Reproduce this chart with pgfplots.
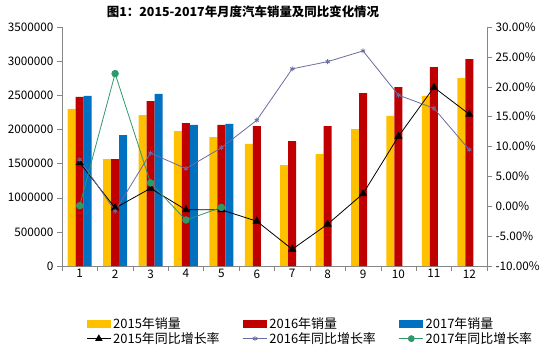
\documentclass[border=0pt]{standalone}
\usepackage{pgfplots}
\pgfplotsset{compat=1.18}
\usepackage{fontspec}
\setmainfont{Noto Sans CJK SC}
\definecolor{c15}{HTML}{FFC000}
\definecolor{c16}{HTML}{C00000}
\definecolor{c17}{HTML}{0070C0}
\definecolor{l16}{HTML}{6B6BA3}
\definecolor{l17}{HTML}{2E9A6A}
\definecolor{axgray}{HTML}{868686}
\pgfplotsset{
  barleg/.style={legend image code/.code={\fill[##1] (0bp,-4bp) rectangle (24bp,4bp);}},
  lineleg/.style={legend image code/.code={\draw[mark repeat=2,mark phase=2,##1] plot coordinates {(0bp,0bp) (12bp,0bp) (24bp,0bp)};}},
}
\begin{document}
\begin{tikzpicture}[font=\fontsize{11}{13}\selectfont]
\path[use as bounding box] (0,0) rectangle (553bp,-357bp);
\node[font=\bfseries\fontsize{12.5}{14}\selectfont] at (243bp,-12bp) {图1：2015-2017年月度汽车销量及同比变化情况};
\begin{axis}[
  at={(62bp,-266bp)}, anchor=south west,
  scale only axis, width=425bp, height=239bp,
  xmin=0.5, xmax=12.5, ymin=0, ymax=3500000,
  axis x line*=bottom, axis y line*=left,
  axis line style={axgray},
  tick align=outside, major tick length=5bp,
  tick style={axgray, thin},
  xtick={0.5,1.5,...,12.5}, xticklabels={},
  extra x ticks={1,2,...,12},
  extra x tick style={major tick length=0pt},
  ytick={0,500000,...,3500000},
  scaled y ticks=false,
  yticklabel style={/pgf/number format/fixed, /pgf/number format/1000 sep={}},
  /pgf/number format/assume math mode=true,
  ticklabel style={font=\fontsize{11.8}{13}\selectfont},
  legend columns=3,
  legend cell align=left,
  legend style={at={(0.05,-0.2)}, anchor=north west, draw=none, fill=none,
    font=\fontsize{13}{15}\selectfont,
    /tikz/every even column/.append style={column sep=21bp},
    row sep=-2bp},
]
\addplot[ybar, bar width=0.226, bar shift=-0.226, fill=c15, draw=none, barleg] coordinates {
(1,2300000) (2,1567000) (3,2210000) (4,1977000) (5,1889000) (6,1787000)
(7,1479000) (8,1640000) (9,2006000) (10,2197000) (11,2490000) (12,2753000)};
\addlegendentry{2015年销量}
\addplot[ybar, bar width=0.226, bar shift=0, fill=c16, draw=none, barleg] coordinates {
(1,2475000) (2,1567000) (3,2416000) (4,2094000) (5,2065000) (6,2050000)
(7,1830000) (8,2050000) (9,2533000) (10,2621000) (11,2914000) (12,3030000)};
\addlegendentry{2016年销量}
\addplot[ybar, bar width=0.226, bar shift=0.226, fill=c17, draw=none, barleg] coordinates {
(1,2490000) (2,1918000) (3,2519000) (4,2065000) (5,2080000)};
\addlegendentry{2017年销量}
\addlegendimage{black, line width=0.8pt, mark=triangle*, mark size=3.5bp, lineleg}
\addlegendentry{2015年同比增长率}
\addlegendimage{l16, line width=0.8pt, mark=asterisk, mark size=2.5bp, lineleg}
\addlegendentry{2016年同比增长率}
\addlegendimage{l17, line width=0.8pt, mark=*, mark size=3bp, lineleg}
\addlegendentry{2017年同比增长率}
\end{axis}
\begin{axis}[
  at={(62bp,-266bp)}, anchor=south west,
  scale only axis, width=425bp, height=239bp,
  xmin=0.5, xmax=12.5, ymin=-10, ymax=30,
  axis x line=none, axis y line*=right,
  axis line style={axgray},
  tick align=outside, major tick length=5bp,
  tick style={axgray, thin},
  ytick={-10,-5,...,30},
  yticklabel={\pgfmathprintnumber[fixed, fixed zerofill, precision=2]{\tick}\%},
  /pgf/number format/assume math mode=true,
  ticklabel style={font=\fontsize{11.8}{13}\selectfont},
]
\addplot[black, line width=0.8pt, mark=triangle*, mark size=4bp] coordinates {
(1,7.3) (2,-0.3) (3,3.0) (4,-0.6) (5,-0.6) (6,-2.5) (7,-7.2) (8,-3.0) (9,2.1) (10,11.7) (11,19.9) (12,15.4)};
\addplot[l16, line width=0.8pt, mark=asterisk, mark size=2.5bp] coordinates {
(1,7.8) (2,-0.8) (3,8.9) (4,6.3) (5,9.8) (6,14.4) (7,23.0) (8,24.2) (9,26.0) (10,18.6) (11,16.4) (12,9.45)};
\addplot[l17, line width=0.8pt, mark=*, mark size=3.3bp] coordinates {
(1,0.1) (2,22.2) (3,3.9) (4,-2.3) (5,-0.2)};
\end{axis}
\end{tikzpicture}
\end{document}
